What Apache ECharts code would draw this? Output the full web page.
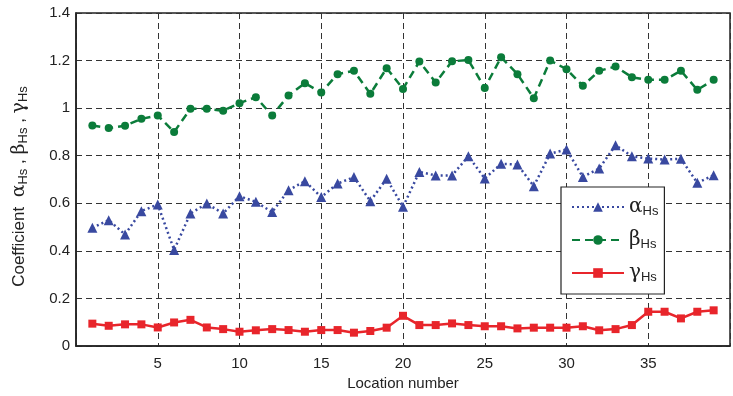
<!DOCTYPE html>
<html>
<head>
<meta charset="utf-8">
<script src="https://cdn.jsdelivr.net/npm/echarts@6/dist/echarts.min.js"></script>
<style>
html,body{margin:0;padding:0;background:#fff;}
#chart{width:733px;height:396px;}
</style>
</head>
<body>
<div id="chart"></div>
<script>
// ---- data ----
var locations = [1,2,3,4,5,6,7,8,9,10,11,12,13,14,15,16,17,18,19,20,21,22,23,24,25,26,27,28,29,30,31,32,33,34,35,36,37,38,39];
var alphaHs = [0.497,0.529,0.469,0.567,0.595,0.404,0.557,0.599,0.557,0.630,0.606,0.563,0.655,0.693,0.626,0.683,0.710,0.609,0.703,0.585,0.732,0.717,0.717,0.798,0.704,0.766,0.763,0.672,0.809,0.826,0.711,0.746,0.844,0.798,0.788,0.784,0.787,0.686,0.718];
var betaHs = [0.927,0.916,0.926,0.955,0.969,0.900,0.997,0.997,0.989,1.021,1.046,0.969,1.053,1.105,1.066,1.143,1.157,1.060,1.168,1.081,1.196,1.108,1.197,1.202,1.085,1.214,1.143,1.042,1.200,1.164,1.094,1.157,1.175,1.130,1.119,1.119,1.157,1.077,1.119];
var gammaHs = [0.094,0.085,0.091,0.091,0.078,0.099,0.110,0.078,0.071,0.060,0.066,0.071,0.067,0.060,0.067,0.067,0.056,0.063,0.077,0.127,0.088,0.088,0.095,0.088,0.083,0.083,0.074,0.077,0.077,0.077,0.083,0.066,0.071,0.088,0.144,0.144,0.116,0.144,0.150];
var seriesNames = ['α', 'β', 'γ'];
var subscript = 'Hs';
var xTickLabels = [5,10,15,20,25,30,35];
var yTickLabels = ['0','0.2','0.4','0.6','0.8','1','1.2','1.4'];
var xAxisTitle = 'Location number';
var yAxisTitle = 'Coefficient';

function pairs(vals){ return vals.map(function(v,i){ return [locations[i], v]; }); }

var chart = echarts.init(document.getElementById('chart'), null, {renderer:'canvas'});
var sansFont = '"Liberation Sans", Arial, sans-serif';
var greekFont = '"DejaVu Serif", "Liberation Serif", serif';
var gridDash = {color:'#333', type:[6,4], width:1};

var option = {
  animation:false,
  backgroundColor:'#fff',
  grid:{left:75, top:13, width:661, height:334, show:true, borderColor:'#222', borderWidth:1.5, backgroundColor:'transparent'},
  xAxis:{
    type:'value', min:0, max:40, interval:5,
    name:xAxisTitle, nameLocation:'middle', nameGap:30,
    nameTextStyle:{fontFamily:sansFont, fontSize:15, color:'#222'},
    axisLine:{show:true, lineStyle:{color:'#222', width:1.5}},
    axisTick:{show:false},
    axisLabel:{fontFamily:sansFont, fontSize:15, color:'#222', margin:10,
      formatter:function(v){ return xTickLabels.indexOf(v) >= 0 ? String(v) : ''; }},
    splitLine:{show:true, lineStyle:gridDash}
  },
  yAxis:{
    type:'value', min:0, max:1.4, interval:0.2,
    name:yAxisTitle + '  {g|' + seriesNames[0] + '}{s|' + subscript + '} , {g|' + seriesNames[1] + '}{s|' + subscript + '} , {g|' + seriesNames[2] + '}{s|' + subscript + '}',
    nameLocation:'middle', nameGap:46, nameRotate:90,
    nameTextStyle:{fontFamily:sansFont, fontSize:17, color:'#222', lineHeight:22, padding:[0,14,0,0],
      rich:{
        g:{fontFamily:greekFont, fontSize:19, color:'#222', lineHeight:22, verticalAlign:'middle'},
        s:{fontFamily:sansFont, fontSize:13, color:'#222', lineHeight:13, verticalAlign:'bottom'}
      }},
    axisLine:{show:true, lineStyle:{color:'#222', width:1.5}},
    axisTick:{show:false},
    axisLabel:{fontFamily:sansFont, fontSize:15, color:'#222', margin:6,
      formatter:function(v){ var i = Math.round(v/0.2); return yTickLabels[i] !== undefined ? yTickLabels[i] : ''; }},
    splitLine:{show:true, lineStyle:gridDash}
  },
  legend:{
    orient:'vertical', left:561, top:187,
    backgroundColor:'#fff', borderColor:'#222', borderWidth:1.2,
    padding:[10, 6, 10, 10],
    itemWidth:52, itemHeight:12, itemGap:12,
    data:seriesNames,
    formatter:function(n){ return '{g|' + n + '}{s|' + subscript + '}'; },
    textStyle:{fontFamily:sansFont, color:'#222',
      rich:{
        g:{fontFamily:greekFont, fontSize:20, color:'#222', lineHeight:22, verticalAlign:'middle'},
        s:{fontFamily:sansFont, fontSize:13, color:'#222', lineHeight:13, verticalAlign:'bottom'}
      }}
  },
  series:[
    {name:seriesNames[0], type:'line', data:pairs(alphaHs), symbol:'triangle', symbolSize:10,
      itemStyle:{color:'#3949a0'}, lineStyle:{color:'#3949a0', width:2.5, type:[2,3]}},
    {name:seriesNames[1], type:'line', data:pairs(betaHs), symbol:'circle', symbolSize:8,
      itemStyle:{color:'#0b7c3a'}, lineStyle:{color:'#0b7c3a', width:2.5, type:[8,5]}},
    {name:seriesNames[2], type:'line', data:pairs(gammaHs), symbol:'rect', symbolSize:8,
      itemStyle:{color:'#e8252b'}, lineStyle:{color:'#e8252b', width:2.5}}
  ]
};
chart.setOption(option);
</script>
</body>
</html>
